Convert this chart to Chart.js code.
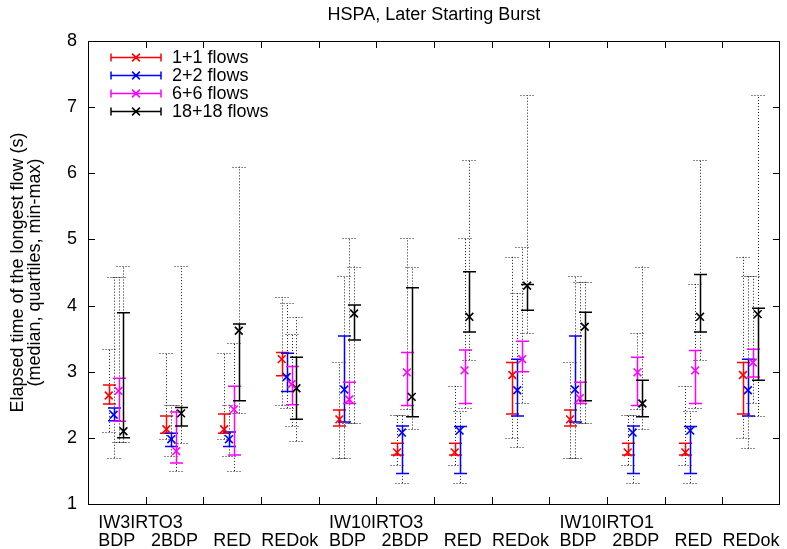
<!DOCTYPE html>
<html><head><meta charset="utf-8">
<script src="https://cdn.jsdelivr.net/npm/chart.js@4.4.1/dist/chart.umd.min.js"></script>
<style>html,body{margin:0;padding:0;background:#fff}canvas{display:block}</style>
</head><body>
<canvas id="c" width="787" height="549"></canvas>
<script>
// ---------- data ----------
const groupNames   = ['BDP','2BDP','RED','REDok','BDP','2BDP','RED','REDok','BDP','2BDP','RED','REDok'];
const groupHeaders = ['IW3IRTO3','','','','IW10IRTO3','','','','IW10IRTO1','','',''];
const seriesNames  = ['1+1 flows','2+2 flows','6+6 flows','18+18 flows'];
const yTicks = [1,2,3,4,5,6,7,8];

// 1+1 flows
const med1 = [2.64,2.13,2.13,3.19,2.28,1.78,1.78,2.95,2.28,1.78,1.78,2.95];
const q1_1 = [2.51,2.07,2.07,2.94,2.18,1.74,1.74,2.36,2.18,1.74,1.74,2.36];
const q3_1 = [2.80,2.33,2.36,3.29,2.42,1.92,1.92,3.14,2.42,1.92,1.92,3.14];
const min1 = [2.09,1.98,1.98,2.49,1.69,1.59,1.59,2.00,1.69,1.59,1.59,2.00];
const max1 = [3.34,3.29,3.29,4.13,3.14,2.34,2.79,4.74,3.14,2.34,2.79,4.74];
// 2+2 flows
const med2 = [2.35,1.98,1.98,2.92,2.73,2.08,2.11,2.72,2.73,2.08,2.11,2.72];
const q1_2 = [2.26,1.87,1.87,2.70,2.24,1.46,1.46,2.33,2.24,1.46,1.46,2.33];
const q3_2 = [2.45,2.07,2.09,3.28,3.54,2.18,2.17,3.19,3.54,2.18,2.17,3.19];
const min2 = [1.70,1.72,1.72,2.45,1.69,1.32,1.32,1.86,1.69,1.32,1.32,1.84];
const max2 = [4.43,2.49,2.50,4.04,4.45,2.34,2.40,4.19,4.45,2.34,2.40,4.44];
// 6+6 flows
const med3 = [2.71,1.80,2.43,2.81,2.58,2.99,3.02,3.19,2.60,2.99,3.02,3.14];
const q1_3 = [2.25,1.62,1.74,2.50,2.52,2.49,2.52,3.00,2.52,2.49,2.52,2.92];
const q3_3 = [2.90,2.39,2.78,3.08,2.84,3.29,3.33,3.46,2.84,3.22,3.32,3.34];
const min3 = [1.93,1.50,1.50,2.18,2.22,2.43,2.45,2.53,2.22,2.43,2.45,2.53];
const max3 = [4.43,2.49,3.44,3.57,5.02,5.02,5.02,4.89,4.36,3.59,4.33,4.44];
// 18+18 flows
const med4 = [2.10,2.37,3.62,2.75,3.88,2.62,3.83,4.30,3.68,2.52,3.83,3.87];
const q1_4 = [2.00,2.18,2.56,2.28,3.48,2.32,3.60,3.93,2.56,2.32,3.60,2.87];
const q3_4 = [3.89,2.46,3.72,3.22,4.01,4.27,4.51,4.32,3.90,2.87,4.47,3.96];
const min4 = [1.93,1.92,2.37,1.95,2.22,2.14,3.18,3.59,2.22,2.13,3.18,2.33];
const max4 = [4.60,4.60,6.10,3.82,4.59,4.59,6.20,7.18,4.36,4.59,6.20,7.18];

// ---------- styling ----------
const FONT = "'Liberation Sans', Arial, sans-serif";
const colors  = ['#ff0000','#0000ff','#ff00ff','#000000'];
const offsets = [0.36,0.445,0.53,0.615];
const stats = [
  {med:med1,q1:q1_1,q3:q3_1,min:min1,max:max1},
  {med:med2,q1:q1_2,q3:q3_2,min:min2,max:max2},
  {med:med3,q1:q1_3,q3:q3_3,min:min3,max:max3},
  {med:med4,q1:q1_4,q3:q3_4,min:min4,max:max4}
];

const datasets = stats.map((s, k) => ({
  label: seriesNames[k],
  data: s.med.map((m, g) => ({x: g + offsets[k], y: m, q1: s.q1[g], q3: s.q3[g], lo: s.min[g], hi: s.max[g]})),
  borderColor: colors[k],
  backgroundColor: colors[k],
  pointStyle: 'crossRot',
  pointRadius: 5.5,
  pointBorderWidth: 1.6,
  showLine: false
}));

const whiskerPlugin = {
  id: 'whiskers',
  beforeDatasetsDraw(chart) {
    const ctx = chart.ctx, xs = chart.scales.x, ys = chart.scales.y;
    ctx.save();
    chart.data.datasets.forEach((ds, k) => {
      ds.data.forEach(p => {
        const x = Math.round(xs.getPixelForValue(p.x)) + 0.5;
        const yLo = ys.getPixelForValue(p.lo), yHi = ys.getPixelForValue(p.hi);
        const yQ1 = ys.getPixelForValue(p.q1), yQ3 = ys.getPixelForValue(p.q3);
        // dotted min-max
        ctx.setLineDash([1, 2]);
        ctx.strokeStyle = 'rgba(0,0,0,0.9)';
        ctx.lineWidth = 1;
        ctx.beginPath();
        ctx.moveTo(x, yLo); ctx.lineTo(x, yHi);
        ctx.moveTo(x - 7, Math.round(yLo) + 0.5); ctx.lineTo(x + 7, Math.round(yLo) + 0.5);
        ctx.moveTo(x - 7, Math.round(yHi) + 0.5); ctx.lineTo(x + 7, Math.round(yHi) + 0.5);
        ctx.stroke();
        // solid quartile bar
        ctx.setLineDash([]);
        ctx.strokeStyle = colors[k];
        ctx.lineWidth = 1.5;
        ctx.beginPath();
        ctx.moveTo(x, yQ1); ctx.lineTo(x, yQ3);
        ctx.moveTo(x - 6.5, yQ1); ctx.lineTo(x + 6.5, yQ1);
        ctx.moveTo(x - 6.5, yQ3); ctx.lineTo(x + 6.5, yQ3);
        ctx.stroke();
      });
    });
    ctx.restore();
  }
};

const framePlugin = {
  id: 'frame',
  afterDraw(chart) {
    const ctx = chart.ctx, a = chart.chartArea, xs = chart.scales.x, ys = chart.scales.y;
    ctx.save();
    ctx.strokeStyle = '#000';
    ctx.lineWidth = 1;
    ctx.strokeRect(Math.round(a.left) + 0.5, Math.round(a.top) + 0.5, Math.round(a.right - a.left) - 1, Math.round(a.bottom - a.top));
    ctx.beginPath();
    yTicks.forEach(v => {
      const y = Math.round(ys.getPixelForValue(v)) + 0.5;
      ctx.moveTo(a.left, y); ctx.lineTo(a.left + 7, y);
      ctx.moveTo(a.right, y); ctx.lineTo(a.right - 7, y);
    });
    for (let i = 1; i < groupNames.length; i++) {
      const x = Math.round(xs.getPixelForValue(i)) + 0.5;
      ctx.moveTo(x, a.bottom); ctx.lineTo(x, a.bottom - 7);
      ctx.moveTo(x, a.top); ctx.lineTo(x, a.top + 7);
    }
    ctx.stroke();
    // title
    ctx.fillStyle = '#000';
    ctx.font = '18px ' + FONT;
    ctx.textAlign = 'center';
    ctx.textBaseline = 'middle';
    ctx.fillText('HSPA, Later Starting Burst', (a.left + a.right) / 2, 15);
    // group headers, left-aligned with the first label of the group
    ctx.textAlign = 'left';
    groupHeaders.forEach((h, i) => {
      if (!h) return;
      const w = ctx.measureText(groupNames[i]).width;
      ctx.fillText(h, xs.getPixelForValue(i + 0.5) - w / 2, 523);
    });
    // legend
    const rowY = [57.5, 75.5, 93.5, 111.5];
    chart.data.datasets.forEach((ds, k) => {
      const y = rowY[k];
      ctx.strokeStyle = colors[k];
      ctx.lineWidth = 1.5;
      ctx.beginPath();
      ctx.moveTo(111, y); ctx.lineTo(161, y);
      ctx.moveTo(111, y - 4); ctx.lineTo(111, y + 4);
      ctx.moveTo(161, y - 4); ctx.lineTo(161, y + 4);
      ctx.moveTo(136 - 3.9, y - 3.9); ctx.lineTo(136 + 3.9, y + 3.9);
      ctx.moveTo(136 - 3.9, y + 3.9); ctx.lineTo(136 + 3.9, y - 3.9);
      ctx.stroke();
      ctx.fillStyle = '#000';
      ctx.fillText(ds.label, 172, y + 1);
    });
    ctx.restore();
  }
};

new Chart(document.getElementById('c'), {
  type: 'scatter',
  data: { datasets },
  options: {
    responsive: false,
    animation: false,
    devicePixelRatio: 1,
    layout: { padding: { top: 41, right: 2, left: 0, bottom: 0 } },
    plugins: { legend: { display: false }, tooltip: { enabled: false }, title: { display: false } },
    scales: {
      x: {
        type: 'linear', min: 0, max: 12,
        afterBuildTicks: s => { s.ticks = groupNames.map((n, i) => ({ value: i + 0.5 })); },
        afterFit: s => { s.height = 45; s.paddingLeft = 0; s.paddingRight = 0; },
        ticks: {
          autoSkip: false, maxRotation: 0, minRotation: 0,
          padding: 28,
          color: '#000',
          font: { family: FONT, size: 18, lineHeight: 1.02 },
          callback: (v, i) => groupNames[i]
        },
        grid: { display: false, drawTicks: false },
        border: { display: false }
      },
      y: {
        type: 'linear', min: 1, max: 8,
        afterBuildTicks: s => { s.ticks = yTicks.map(v => ({ value: v })); },
        afterFit: s => { s.width = 88; s.paddingTop = 0; s.paddingBottom = 0; },
        ticks: {
          padding: 11, color: '#000',
          font: { family: FONT, size: 18 },
          callback: v => String(v)
        },
        grid: { display: false, drawTicks: false },
        border: { display: false },
        title: {
          display: true,
          text: ['Elapsed time of the longest flow (s)', '(median, quartiles, min-max)'],
          color: '#000',
          font: { family: FONT, size: 18, lineHeight: 0.95 },
          padding: { top: 9, bottom: 0 }
        }
      }
    }
  },
  plugins: [whiskerPlugin, framePlugin]
});
</script>
</body></html>
